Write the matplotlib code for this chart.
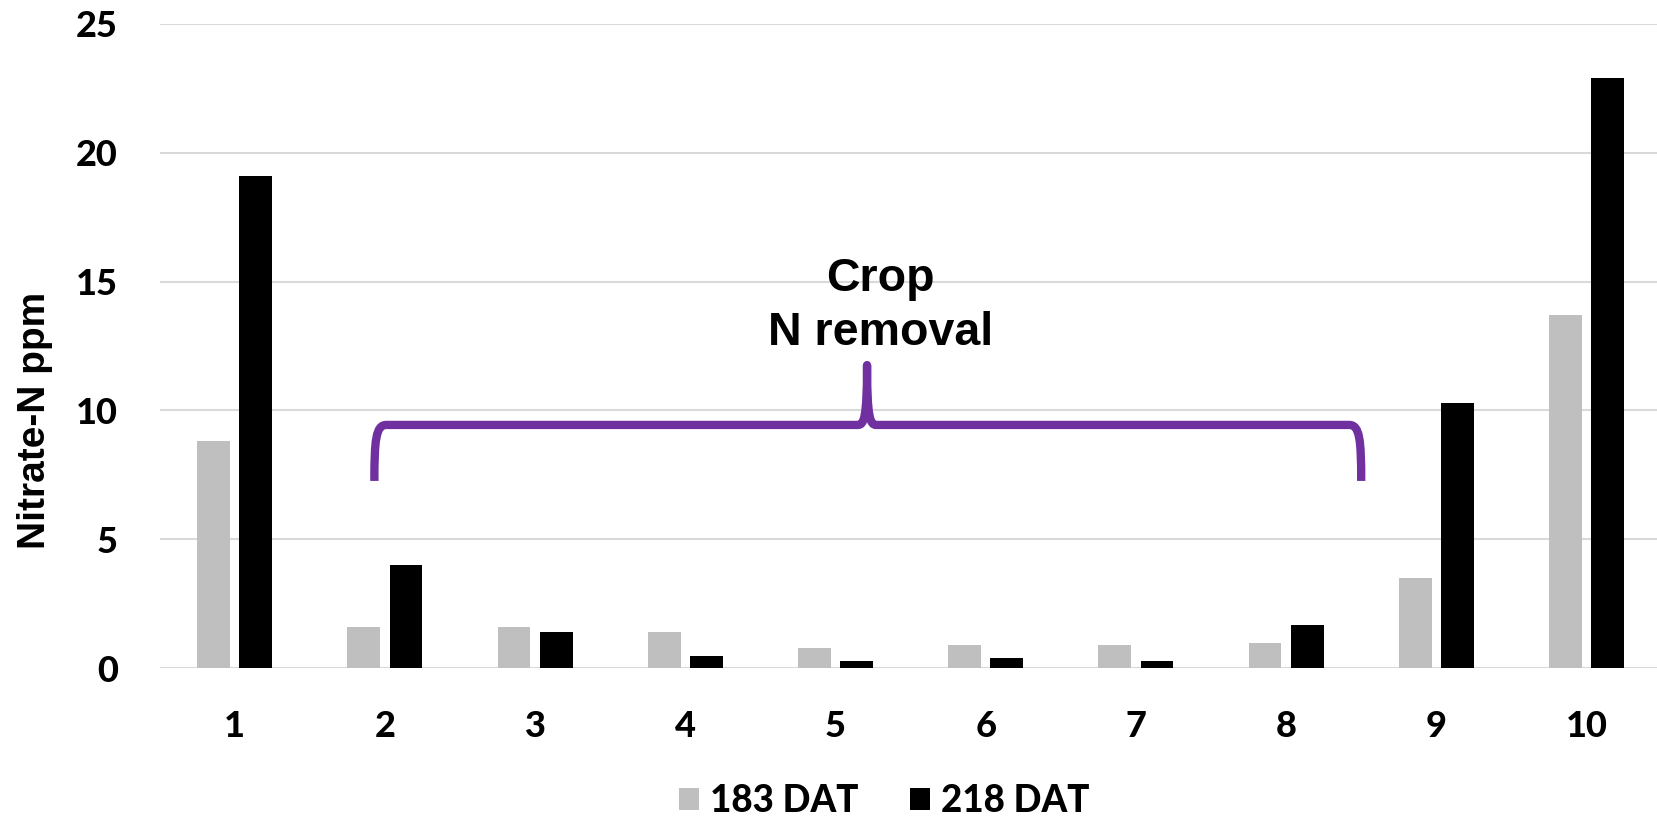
import matplotlib.pyplot as plt
import numpy as np
from matplotlib.path import Path
from matplotlib.patches import PathPatch

# Nitrate-N readings per site at two sampling dates
sites = ['1', '2', '3', '4', '5', '6', '7', '8', '9', '10']
dat_183 = [8.8, 1.6, 1.6, 1.4, 0.8, 0.9, 0.9, 1.0, 3.5, 13.7]
dat_218 = [19.1, 4.0, 1.4, 0.5, 0.3, 0.4, 0.3, 1.7, 10.3, 22.9]
series_names = ['183 DAT', '218 DAT']
y_ticks = [0, 5, 10, 15, 20, 25]

tick_font = 'Lato'
label_font = 'Liberation Sans'
purple = '#7030A0'

fig = plt.figure(figsize=(16.58, 8.17), dpi=100)
ax = fig.add_axes([159.6 / 1658, 0.1818, 1502 / 1658, 0.7894])

x = np.arange(1, len(sites) + 1)
w = 0.218
off = 0.1406
ax.bar(x - off, dat_183, w, color='#BFBFBF', label=series_names[0], zorder=3)
ax.bar(x + off, dat_218, w, color='#000000', label=series_names[1], zorder=3)

ax.set_xlim(0.5, 10.5)
ax.set_ylim(0, 25)
ax.set_yticks(y_ticks)
ax.set_xticks(x)
ax.set_xticklabels(sites)
ax.yaxis.grid(True, color='#D9D9D9', linewidth=1.5, zorder=0)
ax.set_axisbelow(True)
for s in ax.spines.values():
    s.set_visible(False)
ax.tick_params(length=0, pad=30)
for lab in ax.get_xticklabels() + ax.get_yticklabels():
    lab.set_fontfamily(tick_font)
    lab.set_fontweight(900)
    lab.set_fontsize(26)

fig.text(0.021, 1 - 420 / 817, 'Nitrate-N ppm', rotation=90, ha='center', va='center',
         fontsize=28, fontweight='bold', family=label_font)

# curly brace over sites 2-8
x0, x1, xm = 1.93, 8.50, 5.21
y_end, y_bar, y_tip = 7.27, 9.44, 11.76
verts = [
    (x0, y_end),
    (x0, y_end + 1.6), (x0 + 0.01, y_bar), (x0 + 0.08, y_bar),
    (xm - 0.06, y_bar),
    (xm - 0.02, y_bar), (xm, y_bar + 0.3), (xm, y_tip),
    (xm, y_bar + 0.3), (xm + 0.02, y_bar), (xm + 0.06, y_bar),
    (x1 - 0.08, y_bar),
    (x1 - 0.01, y_bar), (x1, y_end + 1.6), (x1, y_end),
]
codes = [Path.MOVETO,
         Path.CURVE4, Path.CURVE4, Path.CURVE4,
         Path.LINETO,
         Path.CURVE4, Path.CURVE4, Path.CURVE4,
         Path.CURVE4, Path.CURVE4, Path.CURVE4,
         Path.LINETO,
         Path.CURVE4, Path.CURVE4, Path.CURVE4]
ax.add_patch(PathPatch(Path(verts, codes), facecolor='none', edgecolor=purple,
                       linewidth=6, capstyle='butt', joinstyle='round', zorder=4))

ax.text(5.30, 14.05, 'Crop\nN removal', ha='center', va='center', fontsize=33.5,
        fontweight='bold', family=label_font, linespacing=1.3, zorder=5)

leg = fig.legend(loc='center', bbox_to_anchor=(884 / 1658, 1 - 801 / 817), ncol=2,
                 frameon=False, handlelength=0.55, handleheight=0.55,
                 handletextpad=0.3, columnspacing=1.4,
                 prop={'family': tick_font, 'weight': 900, 'size': 26.5})

fig.savefig('out.png', dpi=100)
